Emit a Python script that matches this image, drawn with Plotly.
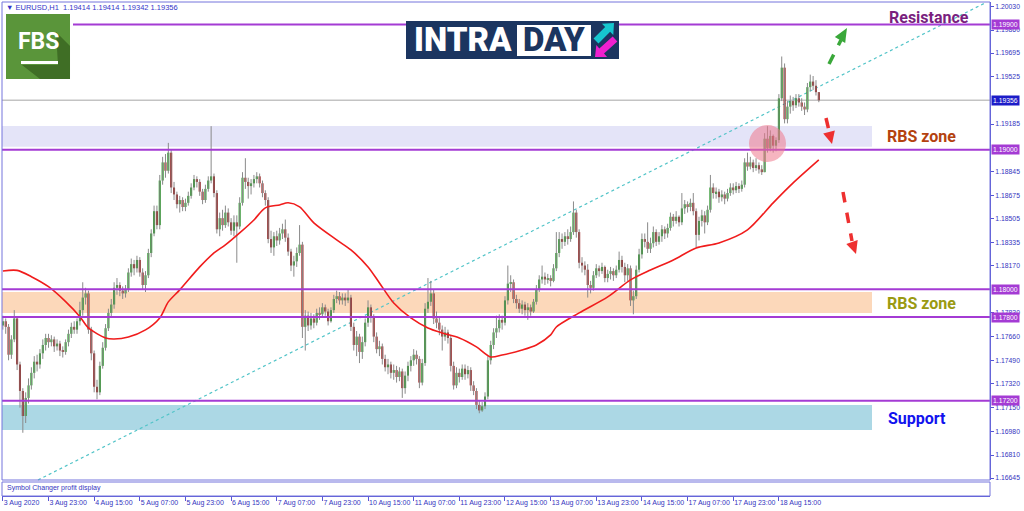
import math
import plotly.graph_objects as go

# ---------------- data ----------------
first_open = 1.1774

closes = [
    1.1777, 1.1773, 1.1753, 1.1764, 1.1779, 1.1746, 1.1727, 1.1709, 1.1722, 1.1731,
    1.1740, 1.1748, 1.1746, 1.1754, 1.1760, 1.1765, 1.1762, 1.1764, 1.1759, 1.1761,
    1.1756, 1.1755, 1.1762, 1.1768, 1.1773, 1.1771, 1.1777, 1.1785, 1.1794, 1.1797,
    1.1771, 1.1754, 1.1730, 1.1726, 1.1745, 1.1758, 1.1772, 1.1783, 1.1789, 1.1801,
    1.1803, 1.1799, 1.1797, 1.1800, 1.1812, 1.1818, 1.1815, 1.1821, 1.1812, 1.1803,
    1.1810, 1.1826, 1.1840, 1.1856, 1.1846, 1.1878, 1.1891, 1.1885, 1.1898, 1.1873,
    1.1868, 1.1861, 1.1864, 1.1859, 1.1862, 1.1867, 1.1873, 1.1879, 1.1877, 1.1870,
    1.1864, 1.1872, 1.1878, 1.1881, 1.1869, 1.1843, 1.1851, 1.1846, 1.1855, 1.1848,
    1.1842, 1.1848, 1.1845, 1.1862, 1.1880, 1.1877, 1.1874, 1.1876, 1.1879, 1.1881,
    1.1876, 1.1869, 1.1864, 1.1836, 1.1830, 1.1838, 1.1835, 1.1840, 1.1843, 1.1837,
    1.1827, 1.1817, 1.1820, 1.1826, 1.1832, 1.1773, 1.1781, 1.1774, 1.1779, 1.1776,
    1.1783, 1.1782, 1.1787, 1.1784, 1.1777, 1.1785, 1.1793, 1.1795, 1.1792, 1.1794,
    1.1792, 1.1794, 1.1773, 1.1760, 1.1766, 1.1755, 1.1762, 1.1776, 1.1787, 1.1780,
    1.1766, 1.1757, 1.1759, 1.1750, 1.1744, 1.1746, 1.1740, 1.1742, 1.1737, 1.1741,
    1.1729, 1.1738, 1.1745, 1.1749, 1.1753, 1.1750, 1.1733, 1.1747, 1.1786, 1.1791,
    1.1797, 1.1779, 1.1776, 1.1771, 1.1766, 1.1769, 1.1765, 1.1745, 1.1731, 1.1740,
    1.1737, 1.1743, 1.1739, 1.1742, 1.1731, 1.1727, 1.1717, 1.1713, 1.1716, 1.1723,
    1.1749, 1.1760, 1.1769, 1.1772, 1.1778, 1.1776, 1.1792, 1.1804, 1.1805, 1.1793,
    1.1790, 1.1786, 1.1789, 1.1785, 1.1787, 1.1784, 1.1791, 1.1800, 1.1807, 1.1809,
    1.1807, 1.1808, 1.1806, 1.1815, 1.1826, 1.1836, 1.1834, 1.1838, 1.1836, 1.1841,
    1.1855, 1.1841, 1.1819, 1.1817, 1.1814, 1.1803, 1.1801, 1.1810, 1.1815, 1.1813,
    1.1816, 1.1808, 1.1811, 1.1813, 1.1810, 1.1814, 1.1821, 1.1816, 1.1810, 1.1815,
    1.1792, 1.1795, 1.1814, 1.1825, 1.1836, 1.1834, 1.1829, 1.1833, 1.1841, 1.1834,
    1.1838, 1.1843, 1.1840, 1.1844, 1.1852, 1.1849, 1.1852, 1.1848, 1.1858, 1.1861,
    1.1859, 1.1862, 1.1856, 1.1839, 1.1849, 1.1853, 1.1848, 1.1857, 1.1873, 1.1869,
    1.1870, 1.1866, 1.1868, 1.1865, 1.1869, 1.1873, 1.1871, 1.1874, 1.1872, 1.1875,
    1.1891, 1.1888, 1.1891, 1.1887, 1.1889, 1.1886, 1.1884, 1.1908, 1.1901, 1.1910,
    1.1903, 1.1907, 1.1937, 1.1959, 1.1922, 1.1931, 1.1935, 1.1932, 1.1937, 1.1934,
    1.1931, 1.1929, 1.1945, 1.1949, 1.1946, 1.19414, 1.19356,
]

highs = [
    1.1781, 1.1779, 1.1775, 1.1767, 1.1785, 1.1780, 1.1748, 1.1729, 1.1726, 1.1736,
    1.1744, 1.1752, 1.1753, 1.1757, 1.1764, 1.1768, 1.1768, 1.1767, 1.1766, 1.1764,
    1.1763, 1.1759, 1.1764, 1.1771, 1.1776, 1.1777, 1.1779, 1.1791, 1.1805, 1.1801,
    1.1799, 1.1773, 1.1756, 1.1735, 1.1748, 1.1762, 1.1775, 1.1786, 1.1793, 1.1805,
    1.1808, 1.1805, 1.1802, 1.1803, 1.1815, 1.1822, 1.1821, 1.1824, 1.1823, 1.1815,
    1.1813, 1.1829, 1.1843, 1.1860, 1.1860, 1.1882, 1.1895, 1.1897, 1.1905, 1.1900,
    1.1877, 1.1870, 1.1867, 1.1866, 1.1865, 1.1870, 1.1876, 1.1882, 1.1881, 1.1879,
    1.1872, 1.1875, 1.1881, 1.1917, 1.1883, 1.1871, 1.1855, 1.1857, 1.1860, 1.1858,
    1.1851, 1.1853, 1.1853, 1.1866, 1.1884, 1.1894, 1.1880, 1.1879, 1.1882, 1.1884,
    1.1883, 1.1878, 1.1871, 1.1866, 1.1842, 1.1841, 1.1842, 1.1844, 1.1847, 1.1850,
    1.1840, 1.1829, 1.1824, 1.1830, 1.1846, 1.1834, 1.1785, 1.1784, 1.1783, 1.1782,
    1.1786, 1.1787, 1.1790, 1.1789, 1.1786, 1.1787, 1.1796, 1.1799, 1.1798, 1.1797,
    1.1797, 1.1800, 1.1796, 1.1776, 1.1770, 1.1768, 1.1766, 1.1779, 1.1792, 1.1789,
    1.1782, 1.1769, 1.1763, 1.1761, 1.1753, 1.1750, 1.1748, 1.1746, 1.1745, 1.1744,
    1.1743, 1.1741, 1.1748, 1.1752, 1.1757, 1.1756, 1.1752, 1.1750, 1.1790, 1.1808,
    1.1806, 1.1800, 1.1784, 1.1780, 1.1774, 1.1773, 1.1771, 1.1767, 1.1748, 1.1744,
    1.1743, 1.1746, 1.1746, 1.1745, 1.1744, 1.1734, 1.1729, 1.1720, 1.1719, 1.1726,
    1.1752, 1.1763, 1.1772, 1.1781, 1.1782, 1.1781, 1.1795, 1.1817, 1.1810, 1.1807,
    1.1796, 1.1793, 1.1792, 1.1791, 1.1790, 1.1789, 1.1793, 1.1803, 1.1810, 1.1817,
    1.1812, 1.1811, 1.1810, 1.1818, 1.1841, 1.1841, 1.1840, 1.1841, 1.1843, 1.1845,
    1.1863, 1.1857, 1.1843, 1.1823, 1.1820, 1.1818, 1.1806, 1.1813, 1.1818, 1.1817,
    1.1819, 1.1817, 1.1814, 1.1816, 1.1815, 1.1817, 1.1827, 1.1824, 1.1819, 1.1818,
    1.1817, 1.1799, 1.1817, 1.1829, 1.1840, 1.1840, 1.1848, 1.1837, 1.1845, 1.1843,
    1.1841, 1.1846, 1.1845, 1.1847, 1.1855, 1.1854, 1.1856, 1.1853, 1.1869, 1.1864,
    1.1863, 1.1865, 1.1869, 1.1858, 1.1852, 1.1857, 1.1856, 1.1860, 1.1882, 1.1876,
    1.1873, 1.1872, 1.1871, 1.1870, 1.1872, 1.1876, 1.1876, 1.1877, 1.1876, 1.1878,
    1.1894, 1.1898, 1.1895, 1.1893, 1.1894, 1.1891, 1.1889, 1.1912, 1.1917, 1.1914,
    1.1911, 1.1909, 1.1940, 1.1967, 1.1962, 1.1935, 1.1939, 1.1938, 1.1940, 1.1940,
    1.1937, 1.1934, 1.1948, 1.1954, 1.1953, 1.1950, 1.19414,
]

lows = [
    1.1771, 1.1768, 1.1749, 1.1750, 1.1762, 1.1742, 1.1715, 1.1697, 1.1704, 1.1718,
    1.1728, 1.1736, 1.1741, 1.1743, 1.1750, 1.1756, 1.1758, 1.1759, 1.1755, 1.1756,
    1.1752, 1.1751, 1.1753, 1.1759, 1.1765, 1.1768, 1.1768, 1.1774, 1.1781, 1.1789,
    1.1768, 1.1749, 1.1726, 1.1721, 1.1724, 1.1743, 1.1756, 1.1770, 1.1780, 1.1786,
    1.1796, 1.1795, 1.1793, 1.1794, 1.1798, 1.1809, 1.1810, 1.1812, 1.1809, 1.1800,
    1.1798, 1.1808, 1.1823, 1.1838, 1.1843, 1.1843, 1.1875, 1.1880, 1.1883, 1.1869,
    1.1864, 1.1858, 1.1855, 1.1856, 1.1856, 1.1860, 1.1865, 1.1871, 1.1873, 1.1867,
    1.1861, 1.1862, 1.1870, 1.1876, 1.1866, 1.1840, 1.1838, 1.1842, 1.1844, 1.1845,
    1.1839, 1.1838, 1.1819, 1.1843, 1.1860, 1.1872, 1.1865, 1.1868, 1.1873, 1.1876,
    1.1873, 1.1866, 1.1860, 1.1833, 1.1826, 1.1824, 1.1831, 1.1832, 1.1836, 1.1834,
    1.1824, 1.1813, 1.1809, 1.1816, 1.1824, 1.1765, 1.1756, 1.1770, 1.1771, 1.1772,
    1.1774, 1.1778, 1.1780, 1.1781, 1.1774, 1.1776, 1.1783, 1.1790, 1.1789, 1.1789,
    1.1788, 1.1790, 1.1770, 1.1756, 1.1752, 1.1747, 1.1750, 1.1759, 1.1773, 1.1776,
    1.1762, 1.1754, 1.1752, 1.1746, 1.1741, 1.1739, 1.1736, 1.1735, 1.1733, 1.1734,
    1.1722, 1.1725, 1.1734, 1.1741, 1.1745, 1.1746, 1.1729, 1.1731, 1.1745, 1.1783,
    1.1788, 1.1775, 1.1772, 1.1767, 1.1756, 1.1763, 1.1761, 1.1741, 1.1728, 1.1729,
    1.1733, 1.1735, 1.1735, 1.1736, 1.1727, 1.1724, 1.1714, 1.1711, 1.1712, 1.1714,
    1.1721, 1.1746, 1.1757, 1.1765, 1.1769, 1.1771, 1.1774, 1.1789, 1.1798, 1.1790,
    1.1786, 1.1783, 1.1782, 1.1781, 1.1778, 1.1781, 1.1783, 1.1789, 1.1798, 1.1804,
    1.1803, 1.1804, 1.1802, 1.1805, 1.1813, 1.1823, 1.1829, 1.1831, 1.1832, 1.1834,
    1.1839, 1.1837, 1.1815, 1.1812, 1.1810, 1.1794, 1.1797, 1.1799, 1.1808, 1.1809,
    1.1811, 1.1805, 1.1805, 1.1807, 1.1806, 1.1808, 1.1812, 1.1812, 1.1805, 1.1806,
    1.1788, 1.1782, 1.1793, 1.1812, 1.1822, 1.1830, 1.1826, 1.1826, 1.1830, 1.1831,
    1.1832, 1.1834, 1.1836, 1.1837, 1.1842, 1.1845, 1.1847, 1.1845, 1.1846, 1.1854,
    1.1855, 1.1856, 1.1853, 1.1830, 1.1835, 1.1845, 1.1840, 1.1846, 1.1855, 1.1865,
    1.1865, 1.1862, 1.1863, 1.1861, 1.1863, 1.1867, 1.1868, 1.1869, 1.1869, 1.1870,
    1.1873, 1.1885, 1.1886, 1.1884, 1.1885, 1.1883, 1.1882, 1.1893, 1.1898, 1.1899,
    1.1898, 1.1899, 1.1905, 1.1935, 1.1919, 1.1919, 1.1926, 1.1928, 1.1930, 1.1931,
    1.1928, 1.1925, 1.1927, 1.1942, 1.1943, 1.1939, 1.19342,
]

# moving average (red line) read at sample bars
ma_index = [0, 5, 10, 16, 22, 27, 30, 36, 39, 44, 50, 55, 58, 62, 69, 74, 78, 83, 88, 92,
            97, 100, 104, 109, 117, 122, 128, 132, 137, 143, 149, 154, 160, 166, 171, 175,
            182, 187, 192, 194, 202, 212, 220, 227, 235, 243, 251, 261, 270, 277, 286]
ma_values = [1.18131, 1.18135, 1.18090, 1.18018, 1.17911, 1.17803, 1.17722, 1.17650, 1.17643,
             1.17657, 1.17708, 1.17794, 1.17909, 1.17995, 1.18160, 1.18260, 1.18318, 1.18404,
             1.18497, 1.18584, 1.18605, 1.18620, 1.18591, 1.18476, 1.18354, 1.18282, 1.18160,
             1.18045, 1.17901, 1.17794, 1.17722, 1.17686, 1.17650, 1.17586, 1.17514, 1.17528,
             1.17564, 1.17600, 1.17672, 1.17729, 1.17830, 1.17945, 1.18067, 1.18138, 1.18210,
             1.18296, 1.18332, 1.18426, 1.18620, 1.18763, 1.18928]

x_tick_index = [0, 16, 32, 48, 64, 80, 96, 112, 128, 144, 160, 176, 192, 208, 224, 240, 256, 272]
x_tick_labels = ["3 Aug 2020", "3 Aug 23:00", "4 Aug 15:00", "5 Aug 07:00", "5 Aug 23:00",
                 "6 Aug 15:00", "7 Aug 07:00", "7 Aug 23:00", "10 Aug 15:00", "11 Aug 07:00",
                 "11 Aug 23:00", "12 Aug 15:00", "13 Aug 07:00", "13 Aug 23:00", "14 Aug 15:00",
                 "17 Aug 07:00", "17 Aug 23:00", "18 Aug 15:00"]

# visible scale labels (the ones under the price boxes are hidden in the reference)
price_ticks = [1.20030, 1.19860, 1.19695, 1.19525, 1.19185, 1.18845, 1.18675,
               1.18505, 1.18335, 1.18170, 1.17830, 1.17660, 1.17490, 1.17320, 1.17150,
               1.16980, 1.16810, 1.16645]

resistance_level = 1.19900
level_lines = [1.19000, 1.18000, 1.17800, 1.17200]
current_price = 1.19356
zone_upper = [1.19172, 1.19022]
zone_middle = [1.17980, 1.17830]
zone_support = [1.17169, 1.16990]
header_text = "EURUSD,H1  1.19414 1.19414 1.19342 1.19356"

# ---------------- geometry helpers ----------------
W, H = 1024, 511
ML, MR, MT, MB = 2, 34, 2, 15
PW, PH = W - ML - MR, H - MT - MB


def px2x(px):
    return (px - ML) / PW


def px2y(py):
    return (H - MB - py) / PH


def path_px(points):
    return "M " + " L ".join(f"{px2x(x):.5f},{px2y(y):.5f}" for x, y in points) + " Z"


def tri_head(tip, base, half_w):
    dx, dy = tip[0] - base[0], tip[1] - base[1]
    d = math.hypot(dx, dy)
    nx, ny = -dy / d, dx / d
    return path_px([tip, (base[0] + nx * half_w, base[1] + ny * half_w),
                    (base[0] - nx * half_w, base[1] - ny * half_w)])


def fat_arrow(tail, tip, s, h, L):
    dx, dy = tip[0] - tail[0], tip[1] - tail[1]
    d = math.hypot(dx, dy)
    ux, uy = dx / d, dy / d
    nx, ny = -uy, ux
    bx, by = tip[0] - ux * L, tip[1] - uy * L
    pts = [(tail[0] + nx * s, tail[1] + ny * s), (bx + nx * s, by + ny * s),
           (bx + nx * h, by + ny * h), tip, (bx - nx * h, by - ny * h),
           (bx - nx * s, by - ny * s), (tail[0] - nx * s, tail[1] - ny * s)]
    return path_px(pts)


main_dom = [px2y(480), 1.0]
sub_dom = [0.0, px2y(482)]

# ---------------- candles ----------------
n = len(closes)
opens = [first_open] + closes[:-1]
idx = list(range(n))
hi = [max(h, o, c) for h, o, c in zip(highs, opens, closes)]
lo = [min(l, o, c) for l, o, c in zip(lows, opens, closes)]

wx, wy = [], []
for i in idx:
    wx += [i, i, None]
    wy += [lo[i], hi[i], None]

body_base = [min(o, c) for o, c in zip(opens, closes)]
body_h = [max(abs(c - o), 0.00005) for o, c in zip(opens, closes)]
body_col = ["#1f9a1f" if c >= o else "#9a1010" for o, c in zip(opens, closes)]

fig = go.Figure()
fig.add_trace(go.Scatter(x=wx, y=wy, mode="lines", line=dict(color="#8a8a8a", width=1),
                         hoverinfo="skip", xaxis="x", yaxis="y"))
fig.add_trace(go.Bar(x=idx, base=body_base, y=body_h, width=0.72,
                     marker=dict(color=body_col, line=dict(width=0)),
                     xaxis="x", yaxis="y"))
fig.add_trace(go.Scatter(x=ma_index, y=ma_values, mode="lines",
                         line=dict(color="#f01c1c", width=1.6, shape="spline", smoothing=0.8),
                         xaxis="x", yaxis="y"))
fig.add_trace(go.Scatter(x=[0], y=[0.5], mode="markers", marker=dict(opacity=0),
                         xaxis="x", yaxis="y2", hoverinfo="skip"))

shapes = []
zone_x1 = px2x(872)
for (a, b), col in [(zone_upper, "#e4e4f8"), (zone_middle, "#fcd8ba"), (zone_support, "#acd8e5")]:
    shapes.append(dict(type="rect", xref="paper", yref="y", x0=0, x1=zone_x1, y0=b, y1=a,
                       fillcolor=col, line=dict(width=0), layer="below"))
shapes.append(dict(type="line", xref="paper", yref="y", x0=0, x1=1, y0=current_price,
                   y1=current_price, line=dict(color="#c3c3c3", width=1.5), layer="below"))
shapes.append(dict(type="line", xref="paper", yref="paper", x0=px2x(38), y0=px2y(480),
                   x1=px2x(985), y1=px2y(3), line=dict(color="#52c4c8", width=1.2, dash="dot"),
                   layer="below"))
shapes.append(dict(type="line", xref="paper", yref="y", x0=px2x(73), x1=1, y0=resistance_level,
                   y1=resistance_level, line=dict(color="#a43bd4", width=2)))
for lv in level_lines:
    shapes.append(dict(type="line", xref="paper", yref="y", x0=0, x1=1, y0=lv, y1=lv,
                       line=dict(color="#a43bd4", width=2)))
# pink highlight circle
shapes.append(dict(type="circle", xref="paper", yref="paper", x0=px2x(749), x1=px2x(786),
                   y0=px2y(162), y1=px2y(125), fillcolor="rgba(238,120,140,0.55)",
                   line=dict(width=0)))
# dashed arrows
shapes.append(dict(type="line", xref="paper", yref="paper", x0=px2x(829), y0=px2y(64),
                   x1=px2x(841), y1=px2y(40), line=dict(color="#3aa83a", width=3.5, dash="dash")))
shapes.append(dict(type="path", xref="paper", yref="paper", path=tri_head((847, 28), (840, 40), 6),
                   fillcolor="#3aa83a", line=dict(width=0)))
shapes.append(dict(type="line", xref="paper", yref="paper", x0=px2x(826), y0=px2y(118),
                   x1=px2x(829), y1=px2y(131), line=dict(color="#ee3030", width=3.5, dash="dash")))
shapes.append(dict(type="path", xref="paper", yref="paper", path=tri_head((832, 144), (829, 132), 6),
                   fillcolor="#ee3030", line=dict(width=0)))
shapes.append(dict(type="line", xref="paper", yref="paper", x0=px2x(843), y0=px2y(192),
                   x1=px2x(852), y1=px2y(241), line=dict(color="#ee3030", width=3.5, dash="dash")))
shapes.append(dict(type="path", xref="paper", yref="paper", path=tri_head((856, 254), (852, 242), 6),
                   fillcolor="#ee3030", line=dict(width=0)))
# FBS logo
shapes.append(dict(type="rect", xref="paper", yref="paper", x0=px2x(3), x1=px2x(73),
                   y0=px2y(82), y1=px2y(11), fillcolor="white", line=dict(width=0)))
shapes.append(dict(type="rect", xref="paper", yref="paper", x0=px2x(6), x1=px2x(70),
                   y0=px2y(79), y1=px2y(14), fillcolor="#5a953a", line=dict(width=0)))
shapes.append(dict(type="path", xref="paper", yref="paper",
                   path=path_px([(56, 32), (70, 46), (70, 79), (40, 79), (22, 65), (58, 65)]),
                   fillcolor="#3f6e25", line=dict(width=0)))
shapes.append(dict(type="rect", xref="paper", yref="paper", x0=px2x(21), x1=px2x(58),
                   y0=px2y(64), y1=px2y(61), fillcolor="white", line=dict(width=0)))
# INTRADAY logo
shapes.append(dict(type="rect", xref="paper", yref="paper", x0=px2x(406), x1=px2x(619),
                   y0=px2y(59), y1=px2y(21), fillcolor="#1b3560", line=dict(width=0)))
shapes.append(dict(type="rect", xref="paper", yref="paper", x0=px2x(517), x1=px2x(591),
                   y0=px2y(56), y1=px2y(25), fillcolor="white", line=dict(width=0)))
shapes.append(dict(type="path", xref="paper", yref="paper", path=fat_arrow((596, 41), (614, 23), 3.5, 8, 9),
                   fillcolor="#16c6cf", line=dict(width=0)))
shapes.append(dict(type="path", xref="paper", yref="paper", path=fat_arrow((615, 39), (595, 57), 3.5, 8, 9),
                   fillcolor="#f01fcf", line=dict(width=0)))
# frames
shapes.append(dict(type="rect", xref="paper", yref="paper", x0=0, x1=1, y0=main_dom[0], y1=1,
                   line=dict(color="#7474dc", width=1)))
shapes.append(dict(type="rect", xref="paper", yref="paper", x0=0, x1=1, y0=0, y1=sub_dom[1],
                   line=dict(color="#7474dc", width=1)))

ann = []
ann.append(dict(x=px2x(4), y=px2y(7), xref="paper", yref="paper", xanchor="left", yanchor="middle",
                text="▼ " + header_text, showarrow=False,
                font=dict(family="Liberation Sans", size=7.5, color="#3434c8")))
label_font = "Roboto"
for text, cx, cy, col in [("Resistance", 929, 17, "#7a1f7e"), ("RBS zone", 921, 137, "#b4420f"),
                          ("RBS zone", 921, 303, "#9a9a12"), ("Support", 917, 418, "#1212ee")]:
    ann.append(dict(x=px2x(cx), y=px2y(cy), xref="paper", yref="paper", text=text, showarrow=False,
                    xanchor="center", yanchor="middle",
                    font=dict(family=label_font, size=16, color=col, weight=700)))
for lv, bg in [(resistance_level, "#a43bd4"), (current_price, "#1c1cc8")] + [(l, "#a43bd4") for l in level_lines]:
    ann.append(dict(x=1, y=lv, xref="paper", yref="y", xanchor="left", yanchor="middle", xshift=1,
                    text=f"{lv:.5f}", showarrow=False, bgcolor=bg, borderpad=1,
                    font=dict(family="Liberation Sans", size=6.8, color="white")))
ann.append(dict(x=px2x(5), y=px2y(488), xref="paper", yref="paper", xanchor="left", yanchor="middle",
                text="Symbol Changer profit display", showarrow=False,
                font=dict(family="Liberation Sans", size=7, color="#3434c0")))
ann.append(dict(x=px2x(38), y=px2y(41), xref="paper", yref="paper", xanchor="center", yanchor="middle",
                text="FBS", showarrow=False, font=dict(family="Roboto", size=23, color="white", weight=700)))
ann.append(dict(x=px2x(412), y=px2y(40), xref="paper", yref="paper", xanchor="left", yanchor="middle",
                text="INTRA", showarrow=False, font=dict(family="Roboto", size=33, color="white", weight=900)))
ann.append(dict(x=px2x(554), y=px2y(40), xref="paper", yref="paper", xanchor="center", yanchor="middle",
                text="DAY", showarrow=False, font=dict(family="Roboto", size=33, color="#1b3560", weight=900)))

fig.update_layout(
    width=W, height=H, margin=dict(l=ML, r=MR, t=MT, b=MB, pad=0, autoexpand=False),
    paper_bgcolor="white", plot_bgcolor="white", showlegend=False,
    shapes=shapes, annotations=ann,
    xaxis=dict(anchor="y2", domain=[0, 1], range=[-0.3, 346.0], showgrid=False, zeroline=False,
               automargin=False, tickangle=0,
               tickmode="array", tickvals=x_tick_index, ticktext=x_tick_labels,
               ticks="outside", ticklen=4, tickcolor="#5656d6", ticklabelposition="outside right",
               tickfont=dict(family="Liberation Sans", size=7, color="#3434c0"),
               showline=True, linecolor="#5656d6", linewidth=1),
    yaxis=dict(anchor="x", side="right", domain=main_dom, range=[1.16631, 1.20061],
               automargin=False,
               showgrid=False, zeroline=False, tickmode="array", tickvals=price_ticks,
               ticktext=[f"{p:.5f}" for p in price_ticks], ticks="outside", ticklen=3,
               tickcolor="#5656d6", tickfont=dict(family="Liberation Sans", size=6.8, color="#3434c0"),
               showline=True, linecolor="#5656d6", linewidth=1),
    yaxis2=dict(anchor="x", side="right", domain=sub_dom, range=[0, 1], showgrid=False,
                automargin=False,
                zeroline=False, showticklabels=False, showline=False),
)

fig.write_html("out.html", config={"displayModeBar": False},
               post_script="document.body.style.margin='0';document.body.style.overflow='hidden';")
